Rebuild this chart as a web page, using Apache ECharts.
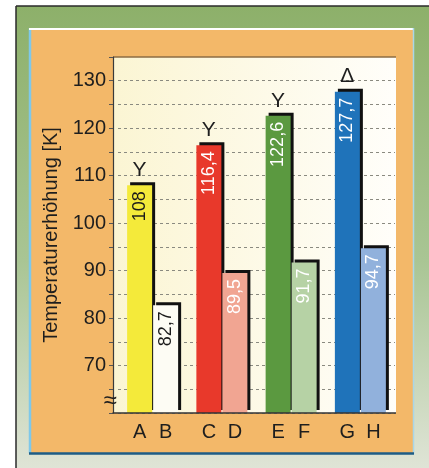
<!DOCTYPE html>
<html><head><meta charset="utf-8">
<script src="https://cdn.jsdelivr.net/npm/echarts@6/dist/echarts.min.js"></script>
<style>html,body{margin:0;padding:0;background:#fff}#c{width:429px;height:468px}</style>
</head><body><div id="c"></div>
<script>
// ---- data ----
const groupsFirst = ['A', 'C', 'E', 'G'];
const groupsSecond = ['B', 'D', 'F', 'H'];
const valuesFirst = [108, 116.4, 122.6, 127.7];
const valuesSecond = [82.7, 89.5, 91.7, 94.7];
const colorsFirst = ['#f4ea3a', '#e8392b', '#5b9940', '#1f73ba'];
const colorsSecond = ['#fdfcf4', '#f1a592', '#b6d2a5', '#91b1dc'];
const labelColorsFirst = ['#1a1a1a', '#ffffff', '#ffffff', '#ffffff'];
const labelColorsSecond = ['#1a1a1a', '#ffffff', '#ffffff', '#ffffff'];
const topMarks = ['Y', 'Y', 'Y', 'Δ'];
const yTickLabels = [70, 80, 90, 100, 110, 120, 130];
const yAxisTitle = 'Temperaturerhöhung [K]';

const FONT = '"Liberation Sans", Arial, Helvetica, sans-serif';
const fmtDe = v => String(v).replace('.', ',');
const xData = groupsFirst.map((a, i) => a + ' ' + groupsSecond[i]);

const chart = echarts.init(document.getElementById('c'), null, {renderer: 'canvas'});

const valueLabel = {
  show: true, position: 'insideTop', rotate: 90, align: 'right', verticalAlign: 'middle',
  distance: 6, fontSize: 18, fontFamily: FONT, formatter: p => fmtDe(p.value)
};
const barStyle = {shadowColor: '#111', shadowBlur: 0, shadowOffsetX: 3, shadowOffsetY: -3};

const option = {
  animation: false,
  backgroundColor: '#ffffff',
  textStyle: {fontFamily: FONT},
  grid: {left: 118, top: 57, width: 277, height: 356, containLabel: false},
  xAxis: {
    type: 'category', data: xData,
    axisLine: {show: false}, axisTick: {show: false},
    axisLabel: {
      margin: 9, interval: 0,
      formatter: (v, i) => '{a|' + groupsFirst[i] + '}{b|' + groupsSecond[i] + '}',
      rich: {
        a: {width: 26, align: 'center', fontSize: 20, color: '#1e1e1e', fontFamily: FONT},
        b: {width: 26, align: 'center', fontSize: 20, color: '#1e1e1e', fontFamily: FONT}
      }
    }
  },
  yAxis: {
    type: 'value', min: 60, max: 135, interval: 5, offset: 5,
    name: yAxisTitle, nameLocation: 'middle', nameGap: 47,
    nameTextStyle: {fontSize: 20, color: '#1e1e1e', fontFamily: FONT},
    axisLine: {show: true, lineStyle: {color: '#3a3a3a', width: 1.2}},
    axisTick: {show: true, length: 4, lineStyle: {color: '#555'}},
    axisLabel: {
      margin: 7, fontSize: 20, color: '#1e1e1e', fontFamily: FONT,
      formatter: v => yTickLabels.includes(v) ? String(v) : ''
    },
    splitLine: {show: true, showMaxLine: false, lineStyle: {type: [3, 3], color: '#8a8a80', width: 1}}
  },
  series: [
    {
      type: 'bar', barWidth: 25, barGap: '4%', z: 3,
      data: valuesFirst.map((v, i) => ({
        value: v, itemStyle: Object.assign({color: colorsFirst[i]}, barStyle),
        label: {color: labelColorsFirst[i]}
      })),
      label: valueLabel,
      markPoint: {
        symbol: 'circle', symbolSize: 1,
        itemStyle: {color: 'rgba(0,0,0,0)'},
        label: {show: true, position: 'top', distance: 4, fontSize: 21, color: '#1e1e1e', fontFamily: FONT,
          formatter: p => p.name},
        data: valuesFirst.map((v, i) => ({name: topMarks[i], coord: [i, v]}))
      }
    },
    {
      type: 'bar', barWidth: 25, z: 3,
      data: valuesSecond.map((v, i) => ({
        value: v, itemStyle: Object.assign({color: colorsSecond[i]}, barStyle),
        label: {color: labelColorsSecond[i]}
      })),
      label: valueLabel
    }
  ],
  graphic: [
    // outer green frame
    {type: 'rect', z: -20, shape: {x: 16, y: 6, width: 413, height: 462},
      style: {fill: new echarts.graphic.LinearGradient(0, 0, 0, 1, [
        {offset: 0, color: '#8db06a'}, {offset: 0.55, color: '#a9c594'}, {offset: 1, color: '#dfe4d6'}])}},
    {type: 'line', z: -19, shape: {x1: 16, y1: 6, x2: 16, y2: 468}, style: {stroke: '#2a2a2a', lineWidth: 1.5}},
    {type: 'line', z: -19, shape: {x1: 16, y1: 6, x2: 429, y2: 6}, style: {stroke: '#2a2a2a', lineWidth: 1.5}},
    // orange panel
    {type: 'rect', z: -18, shape: {x: 29, y: 28, width: 384, height: 425}, style: {fill: '#f3b869'}},
    {type: 'line', z: -17, shape: {x1: 30, y1: 28, x2: 30, y2: 453}, style: {stroke: '#7ec8ea', lineWidth: 2.5}},
    {type: 'line', z: -17, shape: {x1: 29, y1: 29, x2: 413, y2: 29}, style: {stroke: '#ffffff', lineWidth: 2}},
    {type: 'line', z: -17, shape: {x1: 413.5, y1: 28, x2: 413.5, y2: 454}, style: {stroke: '#a9d6e8', lineWidth: 1.5}},
    {type: 'line', z: -17, shape: {x1: 29, y1: 453.5, x2: 414, y2: 453.5}, style: {stroke: '#1d5c86', lineWidth: 2.5}},
    // plot background
    {type: 'rect', z: -16, shape: {x: 113, y: 57, width: 283, height: 356},
      style: {fill: new echarts.graphic.LinearGradient(0, 0, 1, 0, [
        {offset: 0, color: '#fbf5d3'}, {offset: 1, color: '#fffefa'}])}},
    {type: 'line', z: -15, shape: {x1: 113, y1: 57, x2: 396, y2: 57}, style: {stroke: '#8d6c43', lineWidth: 1.5}},
    {type: 'line', z: 50, shape: {x1: 112.5, y1: 413, x2: 396, y2: 413}, style: {stroke: '#333', lineWidth: 1.3}},
    // axis break symbol
    {type: 'text', z: 60, x: 110, y: 401,
      style: {text: '≈', fontSize: 24, fill: '#1e1e1e', fontFamily: FONT, align: 'center', verticalAlign: 'middle'}}
  ]
};
chart.setOption(option);
</script>
</body></html>
